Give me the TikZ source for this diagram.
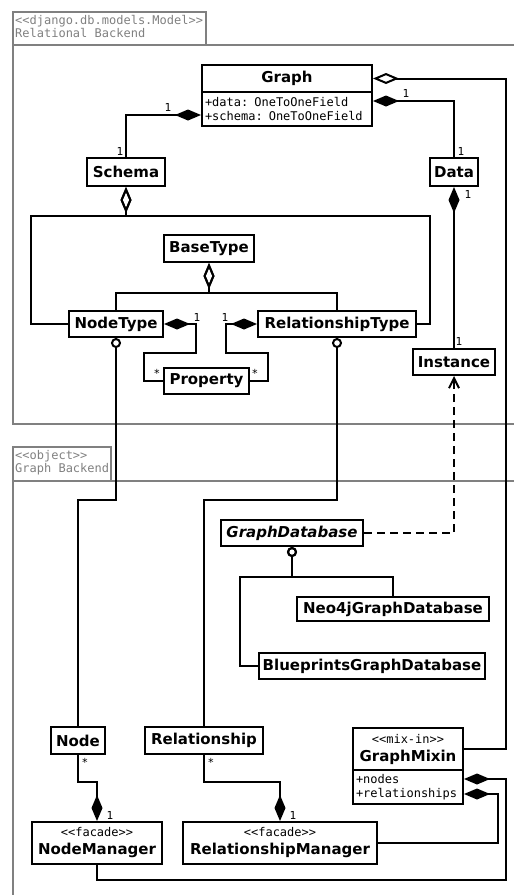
\documentclass[tikz,border=0pt]{standalone}
\usepackage{fontspec}
\setmainfont{DejaVu Sans}
\setmonofont{DejaVu Sans Mono}
\usepackage{tikz}
\usetikzlibrary{arrows.meta,calc}

\definecolor{pkggray}{RGB}{128,128,128}
\newcommand{\stereo}[1]{{\fontsize{12pt}{14pt}\selectfont\mdseries\ttfamily<\kern0pt<#1>\kern0pt>}}

\tikzset{
	cls/.style={draw,line width=2pt,inner sep=2pt,align=center,font=\fontsize{15pt}{18pt}\selectfont\bfseries},
	attrs/.style={draw,line width=2pt,inner sep=3pt,align=left,font=\fontsize{12pt}{14pt}\selectfont\ttfamily},
	mult/.style={inner sep=0pt,font=\fontsize{11pt}{13pt}\selectfont\ttfamily},
	link/.style={line width=2pt},
	comp/.style={link,{Diamond[length=26pt,width=11pt]}-},
	aggr/.style={link,{Diamond[open,length=26pt,width=11pt]}-},
	lolli/.style={link,{Circle[open,length=10pt]}-},
	dep/.style={link,dash pattern=on 8pt off 5pt,-{Straight Barb[length=10pt,width=10pt]}},
	pkg/.style={draw=pkggray,line width=2pt},
	pkglabel/.style={anchor=north west,inner sep=1pt,align=left,text=pkggray,font=\fontsize{12pt}{13pt}\selectfont\ttfamily}
}

\begin{document}
\begin{tikzpicture}[x=1pt,y=-1pt]
		\useasboundingbox (0,0) rectangle (514,895);

		% package frames
		\begin{scope}
			\clip (0,0) rectangle (514,895);
			\draw[pkg] (13,12) rectangle (206,45);
			\draw[pkg] (13,45) rectangle (530,424);
			\draw[pkg] (13,447) rectangle (111,481);
			\draw[pkg] (13,481) rectangle (530,910);
		\end{scope}
		\node[pkglabel] (relpkg) at (14,14) {<\kern0pt<django.db.models.Model>\kern0pt>\\Relational Backend};
		\node[pkglabel] (graphpkg) at (14,449) {<\kern0pt<object>\kern0pt>\\Graph Backend};

		% relational backend
		\node[cls,minimum width=170pt,minimum height=27pt] (graph) at (287,78.5) {Graph};
		\node[attrs,minimum width=170pt,minimum height=34pt,text width=164pt] (graphattr) at (287,109) {+data: OneToOneField\\+schema: OneToOneField};
		\coordinate (gdata) at ($(graphattr.east)+(0,-8)$);
		\coordinate (gschema) at ($(graphattr.west)+(0,6)$);
		\node[cls,minimum width=78pt,minimum height=28pt] (schema) at (126,172) {Schema};
		\node[cls,minimum width=48pt,minimum height=28pt] (data) at (454,172) {Data};
		\node[cls,minimum width=90pt,minimum height=27pt] (basetype) at (209,248.5) {BaseType};
		\node[cls,minimum width=94pt,minimum height=26pt] (nodetype) at (116,324) {NodeType};
		\node[cls,minimum width=158pt,minimum height=26pt] (reltype) at (337,324) {RelationshipType};
		\node[cls,minimum width=85pt,minimum height=26pt] (property) at (206.5,381) {Property};
		\node[cls,minimum width=82pt,minimum height=26pt] (instance) at (454,362) {Instance};

		% graph backend
		\node[cls,minimum width=142pt,minimum height=26pt,font=\fontsize{15pt}{18pt}\selectfont\bfseries\itshape] (graphdb) at (292,533) {GraphDatabase};
		\node[cls,minimum width=192pt,minimum height=24pt] (neo4j) at (393,609) {Neo4jGraphDatabase};
		\node[cls,minimum width=226pt,minimum height=26pt] (blueprints) at (372,666) {BlueprintsGraphDatabase};
		\node[cls,minimum width=54pt,minimum height=27pt] (node) at (78,740.5) {Node};
		\node[cls,minimum width=118pt,minimum height=27pt] (rel) at (204,740.5) {Relationship};
		\node[cls,minimum width=130pt,minimum height=42pt] (nodemgr) at (97,843) {\stereo{facade}\\NodeManager};
		\node[cls,minimum width=194pt,minimum height=42pt] (relmgr) at (280,843) {\stereo{facade}\\RelationshipManager};
		\node[cls,minimum width=110pt,minimum height=42pt] (mixin) at (408,749) {\stereo{mix-in}\\GraphMixin};
		\node[attrs,minimum width=110pt,minimum height=34pt,text width=104pt] (mixinattr) at (408,787) {+nodes\\+relationships};
		\coordinate (mnodes) at ($(mixinattr.east)+(0,-8)$);
		\coordinate (mrels) at ($(mixinattr.east)+(0,7)$);

		% connectors
		\draw[aggr] (graph.east) -| ([xshift=42pt]mixin.east) -- (mixin.east);
		\draw[comp] (gdata) -| (data.north);
		\draw[comp] (gschema) -| (schema.north);
		\draw[aggr] (schema.south) -- ++(0,29) -| ([xshift=-37pt]nodetype.west) -- (nodetype.west);
		\draw[aggr] (schema.south) -- ++(0,29) -| ([xshift=13pt]reltype.east) -- (reltype.east);
		\draw[aggr] (basetype.south) -- ++(0,30) -| (nodetype.north);
		\draw[aggr] (basetype.south) -- ++(0,30) -| (reltype.north);
		\draw[comp] (nodetype.east) -| (196,353) -| (144,381) -- (property.west);
		\draw[comp] (reltype.west) -| (226,353) -| (268,381) -- (property.east);
		\draw[comp] (data.south) -- (instance.north);
		\draw[dep] (graphdb.east) -| (instance.south);
		\draw[lolli] (graphdb.south) -- ++(0,30) -| (neo4j.north);
		\draw[lolli] (graphdb.south) -- ++(0,30) -| ([xshift=-18pt]blueprints.west) -- (blueprints.west);
		\draw[lolli] (nodetype.south) -- ++(0,162) -| (node.north);
		\draw[lolli] (reltype.south) -- ++(0,162) -| (rel.north);
		\draw[comp] (nodemgr.north) -- ++(0,-39) -| (node.south);
		\draw[comp] (relmgr.north) -- ++(0,-39) -| (rel.south);
		\draw[comp] (mnodes) -| (506,880) -| (nodemgr.south);
		\draw[comp] (mrels) -| (498,843) -- (relmgr.east);

		% multiplicities
		\node[mult] (m1) at (406,93) {1};
		\node[mult] (m2) at (461,151) {1};
		\node[mult] (m3) at (168,107) {1};
		\node[mult] (m4) at (120,151) {1};
		\node[mult] (m5) at (468,194) {1};
		\node[mult] (m6) at (459,341) {1};
		\node[mult] (m7) at (197,317) {1};
		\node[mult] (m8) at (225,317) {1};
		\node[mult] (m9) at (157,373) {*};
		\node[mult] (m10) at (255,373) {*};
		\node[mult] (m11) at (85,762) {*};
		\node[mult] (m12) at (110,815) {1};
		\node[mult] (m13) at (211,762) {*};
		\node[mult] (m14) at (293,815) {1};
	\end{tikzpicture}
\end{document}
